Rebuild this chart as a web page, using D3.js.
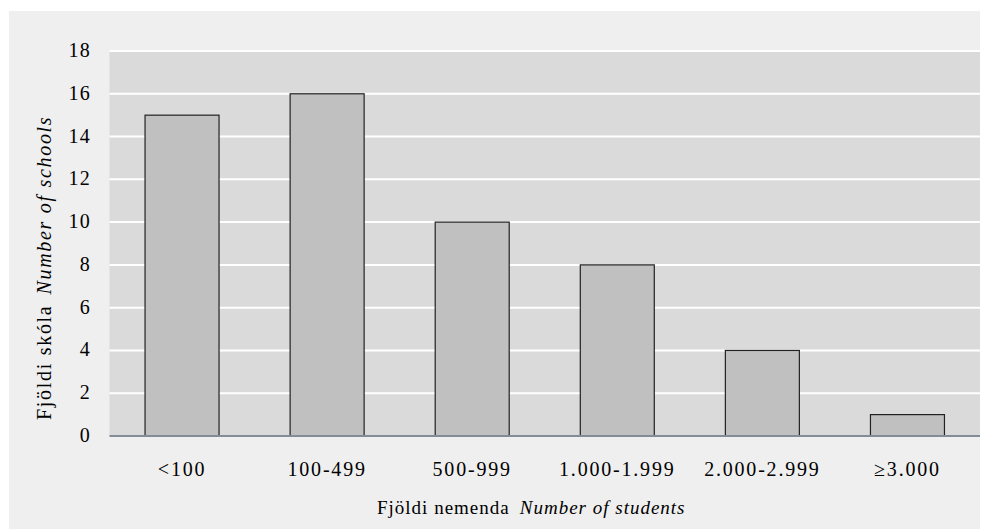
<!DOCTYPE html>
<html lang="is">

<head>
    <meta charset="utf-8">
    <title>Fjöldi skóla</title>
    <script type="text/javascript" src="https://d3js.org/d3.v7.min.js"></script>
    <style>
        body { margin: 0; background: #ffffff; }
        text { font-family: "Liberation Serif", "Times New Roman", serif; fill: #000; }
    </style>
</head>

<body>
    <div id="container"></div>
    <script type="text/javascript">
        var w = 981;
        var h = 530;

        // data
        var categories = ["<100", "100-499", "500-999", "1.000-1.999", "2.000-2.999", "\u22653.000"];
        var schools = [15, 16, 10, 8, 4, 1];
        var yTicks = [0, 2, 4, 6, 8, 10, 12, 14, 16, 18];

        const svg = d3.select("div#container")
            .append("svg")
            .attr("width", w)
            .attr("height", h);

        // outer panel
        svg.append("rect")
            .attr("x", 9).attr("y", 11)
            .attr("width", 971).attr("height", 518)
            .attr("fill", "#efefef");

        // plot area edges (not "top": that name is taken by window.top)
        var pLeft = 109.5, pRight = 980, pTop = 51, pBottom = 436;

        var x = d3.scaleBand().domain(categories).range([pLeft, pRight]).paddingInner(0.49).paddingOuter(0.245);
        var y = d3.scaleLinear().domain([0, 18]).range([pBottom, pTop]);

        // plot area
        svg.append("rect")
            .attr("x", pLeft).attr("y", pTop)
            .attr("width", pRight - pLeft).attr("height", pBottom - pTop)
            .attr("fill", "#dadada");

        // gridlines
        svg.selectAll("line.grid")
            .data(yTicks.filter(d => d > 0))
            .enter()
            .append("line")
            .attr("class", "grid")
            .attr("x1", pLeft).attr("x2", pRight)
            .attr("y1", d => y(d)).attr("y2", d => y(d))
            .attr("stroke", "#ffffff")
            .attr("stroke-width", 2);

        // bars
        svg.selectAll("rect.bar")
            .data(schools)
            .enter()
            .append("rect")
            .attr("class", "bar")
            .attr("x", (d, i) => x(categories[i]))
            .attr("y", d => y(d))
            .attr("width", x.bandwidth())
            .attr("height", d => y(0) - y(d))
            .attr("fill", "#c0c0c0")
            .attr("stroke", "#222")
            .attr("stroke-width", 1.2);

        // zero line
        svg.append("line")
            .attr("x1", pLeft).attr("x2", pRight)
            .attr("y1", y(0)).attr("y2", y(0))
            .attr("stroke", "#848c98")
            .attr("stroke-width", 2);

        // y tick labels
        svg.selectAll("text.ytick")
            .data(yTicks)
            .enter()
            .append("text")
            .attr("class", "ytick")
            .attr("x", 91)
            .attr("y", d => y(d) + 6)
            .attr("text-anchor", "end")
            .style("font-size", "20px")
            .style("letter-spacing", "1.2px")
            .text(d => d);

        // x tick labels
        svg.selectAll("text.xtick")
            .data(categories)
            .enter()
            .append("text")
            .attr("class", "xtick")
            .attr("x", d => x(d) + x.bandwidth() / 2)
            .attr("y", 476)
            .attr("text-anchor", "middle")
            .style("font-size", "20px")
            .style("letter-spacing", "1.8px")
            .text(d => d);

        // axis titles
        var xt = svg.append("text")
            .attr("x", 377).attr("y", 514)
            .style("font-size", "19px")
            .style("letter-spacing", "1px");
        xt.append("tspan").text("Fjöldi nemenda");
        xt.append("tspan").attr("dx", 10).style("font-style", "italic").text("Number of students");

        var yt = svg.append("text")
            .attr("transform", "translate(51,420) rotate(-90)")
            .style("font-size", "20px")
            .style("letter-spacing", "1.7px");
        yt.append("tspan").text("Fjöldi skóla");
        yt.append("tspan").attr("dx", 10).style("font-style", "italic").text("Number of schools");
    </script>
</body>

</html>
